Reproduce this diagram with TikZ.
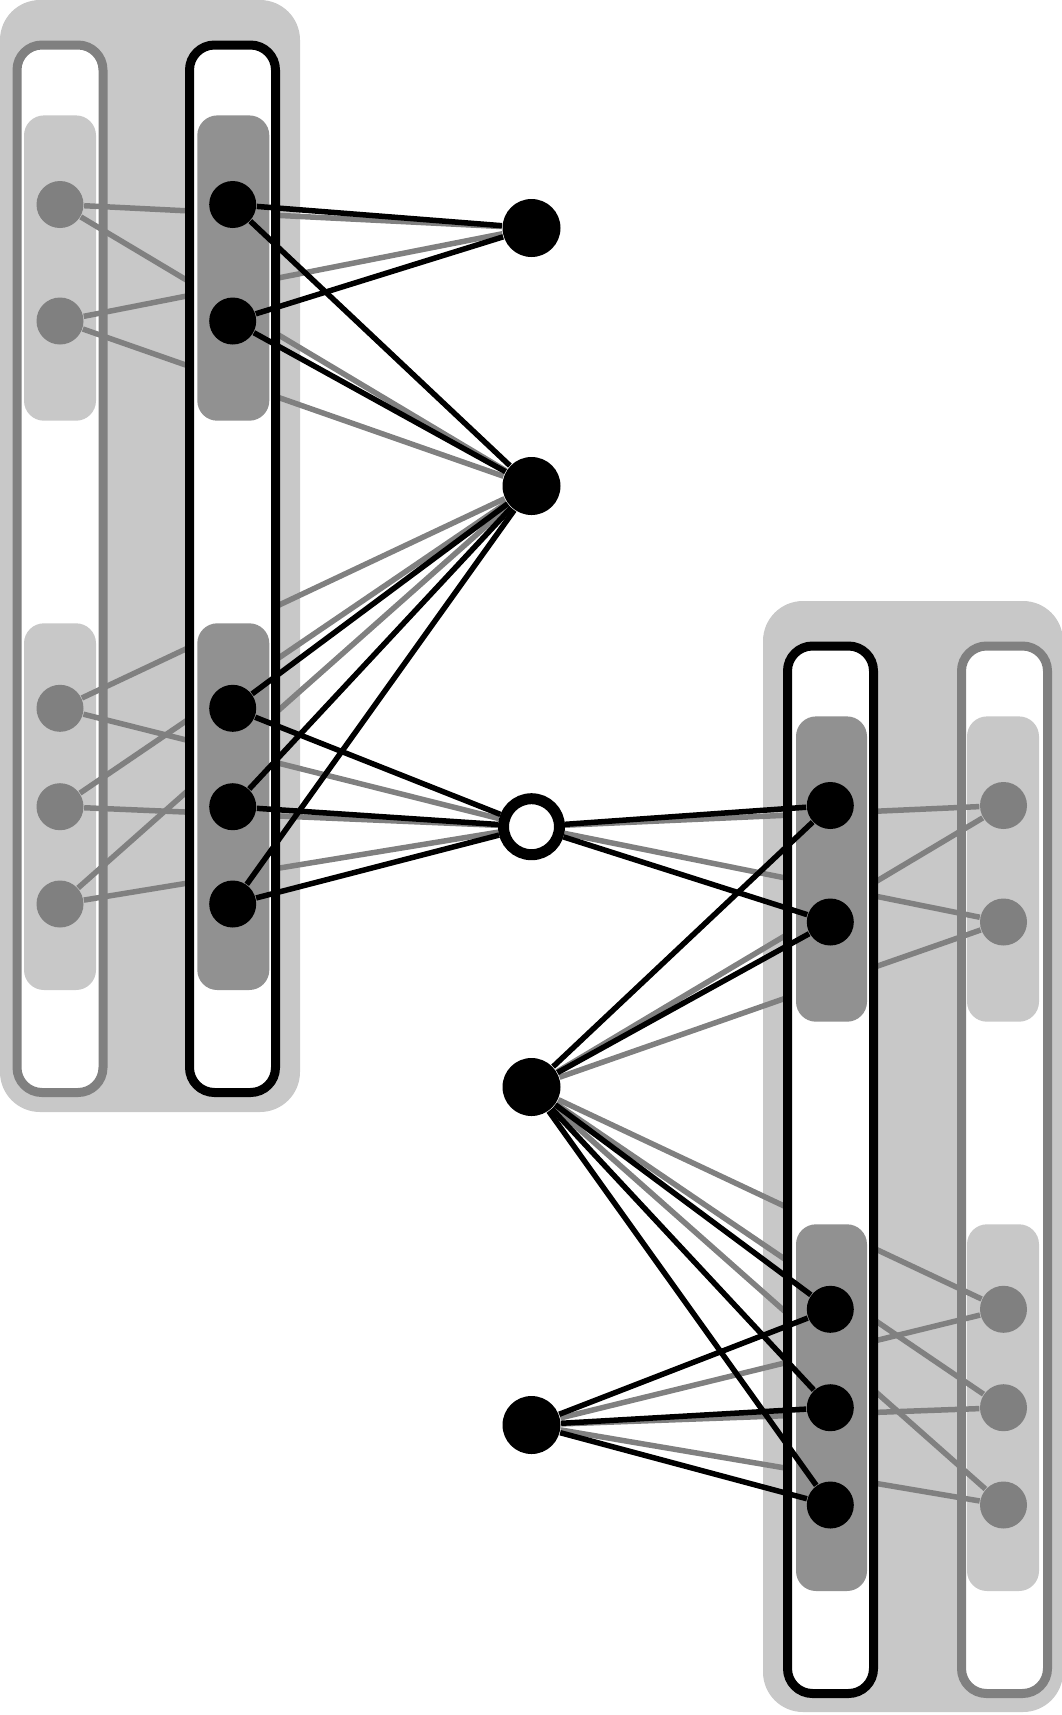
\documentclass[tikz,border=0pt]{standalone}
\definecolor{panelgrey}{RGB}{200,200,200}
\definecolor{groupgrey}{RGB}{145,145,145}
\definecolor{nodegrey}{RGB}{128,128,128}
\pgfdeclarelayer{back}
\pgfdeclarelayer{greys}
\pgfdeclarelayer{front}
\pgfdeclarelayer{blacks}
\pgfsetlayers{back,greys,front,blacks,main}
\tikzset{
gdot/.style={circle,fill=nodegrey,inner sep=0pt,minimum size=4.7mm},
bdot/.style={circle,fill=black,inner sep=0pt,minimum size=4.7mm},
hub/.style={circle,fill=black,inner sep=0pt,minimum size=5.8mm},
ring/.style={circle,draw=black,fill=white,line width=1.1mm,inner sep=0pt,minimum size=5.6mm},
greyline/.style={nodegrey,line width=0.55mm},
blackline/.style={black,line width=0.55mm},
panel/.style={rounded corners=4mm,fill=panelgrey},
greycol/.style={rounded corners=2.5mm,fill=white,draw=nodegrey,line width=0.9mm},
blackcol/.style={rounded corners=2.5mm,fill=white,draw=black,line width=0.9mm},
lightgrp/.style={rounded corners=2mm,fill=panelgrey},
darkgrp/.style={rounded corners=2mm,fill=groupgrey}
}
\begin{document}
\begin{tikzpicture}[x=0.1mm,y=-0.1mm]
\useasboundingbox (0,0) rectangle (1062,1715);

\begin{pgfonlayer}{back}
\fill[panel] (0,0) rectangle (300,1112);
\fill[panel] (763,601) rectangle (1063,1712);
\draw[greycol] (17,45) rectangle (103,1092.5);
\draw[greycol] (961.5,646) rectangle (1047.5,1693.5);
\foreach \t/\b in {115.4/420.7,623.3/990}
{
\fill[lightgrp] (24,\t) rectangle (96,\b);
\fill[lightgrp] (967,\t+601) rectangle (1039,\b+601);
}
\end{pgfonlayer}

\begin{pgfonlayer}{front}
\draw[blackcol] (189.5,45) rectangle (275.5,1092.5);
\draw[blackcol] (787.5,646) rectangle (873.5,1693.5);
\foreach \t/\b in {115.4/420.7,623.3/990}
{
\fill[darkgrp] (197.3,\t) rectangle (269.3,\b);
\fill[darkgrp] (796,\t+601) rectangle (867,\b+601);
}
\end{pgfonlayer}

\foreach \n/\y in {a/204.5,b/321,c/708.3,d/806.7,e/904}
{
\node[gdot] (lg\n) at (60,\y) {};
\node[bdot] (lb\n) at (232.7,\y) {};
\node[bdot] (rb\n) at (830.3,\y+601) {};
\node[gdot] (rg\n) at (1003.5,\y+601) {};
}

\node[hub] (m1) at (531.5,228) {};
\node[hub] (m2) at (531.5,486) {};
\node[ring] (m3) at (531.5,826.7) {};
\node[hub] (m4) at (531.5,1087) {};
\node[hub] (m5) at (531.5,1425) {};

\foreach \s/\t in {a/m1,a/m2,b/m1,b/m2,c/m2,c/m3,d/m2,d/m3,e/m2,e/m3}
{
\begin{pgfonlayer}{greys}
\draw[greyline] (lg\s) -- (\t);
\end{pgfonlayer}
\begin{pgfonlayer}{blacks}
\draw[blackline] (lb\s) -- (\t);
\end{pgfonlayer}
}
\foreach \s/\t in {a/m3,a/m4,b/m3,b/m4,c/m4,c/m5,d/m4,d/m5,e/m4,e/m5}
{
\begin{pgfonlayer}{greys}
\draw[greyline] (rg\s) -- (\t);
\end{pgfonlayer}
\begin{pgfonlayer}{blacks}
\draw[blackline] (rb\s) -- (\t);
\end{pgfonlayer}
}
\end{tikzpicture}
\end{document}
